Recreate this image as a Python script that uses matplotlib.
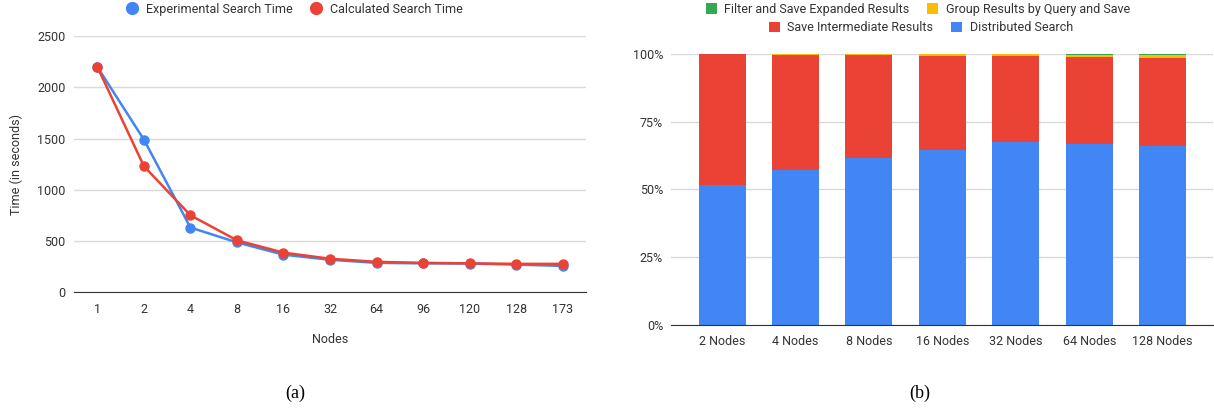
import matplotlib.pyplot as plt
from matplotlib.lines import Line2D
import numpy as np

# Dados do grafico (a)
nodes = ['1', '2', '4', '8', '16', '32', '64', '96', '120', '128', '173']
experimental = [2200, 1490, 630, 485, 365, 315, 285, 280, 278, 268, 255]
calculated = [2200, 1230, 750, 505, 385, 325, 295, 285, 280, 275, 275]

# Dados do grafico (b)
bar_labels = ['2 Nodes', '4 Nodes', '8 Nodes', '16 Nodes', '32 Nodes', '64 Nodes', '128 Nodes']
distributed = [51.7, 57.2, 61.5, 64.6, 67.6, 66.8, 66.1]
save_inter = [48.2, 42.3, 38.0, 34.6, 31.6, 31.9, 32.2]
group_save = [0.05, 0.4, 0.4, 0.7, 0.7, 0.8, 1.1]
filter_save = [0.05, 0.1, 0.1, 0.1, 0.1, 0.5, 0.6]

BLUE = '#4285F4'
RED = '#EA4335'
YELLOW = '#FBBC04'
GREEN = '#34A853'
GRID = '#d9d9d9'
TXT = '#333333'

plt.rcParams['font.family'] = ['Roboto', 'DejaVu Sans']
plt.rcParams['font.size'] = 9

fig = plt.figure(figsize=(12.14, 4.11), dpi=100)

# --- (a) linhas ---
ax1 = fig.add_axes([0.061, 0.2895, 0.4217, 0.6225])
x = np.arange(len(nodes))
ax1.plot(x, experimental, color=BLUE, lw=1.8, marker='o', ms=6.5, label='Experimental Search Time')
ax1.plot(x, calculated, color=RED, lw=1.8, marker='o', ms=6.5, label='Calculated Search Time')
ax1.set_xticks(x)
ax1.set_xticklabels(nodes)
ax1.set_xlim(-0.5, len(nodes) - 0.5)
ax1.set_ylim(0, 2500)
ax1.set_yticks([0, 500, 1000, 1500, 2000, 2500])
ax1.grid(axis='y', color=GRID, lw=1)
ax1.set_axisbelow(True)
for s in ['top', 'right', 'left']:
    ax1.spines[s].set_visible(False)
ax1.spines['bottom'].set_color(TXT)
ax1.tick_params(length=0, colors=TXT, labelsize=9)
ax1.tick_params(axis='x', pad=8)
ax1.tick_params(axis='y', pad=6)
ax1.set_xlabel('Nodes', color=TXT, fontsize=9, labelpad=12)
ax1.set_ylabel('Time (in seconds)', color=TXT, fontsize=9, labelpad=10)
h = [Line2D([], [], ls='none', marker='o', ms=8.5, color=BLUE),
     Line2D([], [], ls='none', marker='o', ms=8.5, color=RED)]
ax1.legend(h, ['Experimental Search Time', 'Calculated Search Time'], loc='center',
           bbox_to_anchor=(0.43, 1.105), ncol=2, frameon=False, fontsize=9,
           handlelength=1, handletextpad=0.6, columnspacing=1.4, labelcolor=TXT)

# --- (b) barras empilhadas ---
ax2 = fig.add_axes([0.553, 0.209, 0.4465, 0.66])
xb = np.arange(len(bar_labels))
w = 0.64
b1 = ax2.bar(xb, distributed, w, color=BLUE, label='Distributed Search')
bottom = np.array(distributed)
b2 = ax2.bar(xb, save_inter, w, bottom=bottom, color=RED, label='Save Intermediate Results')
bottom = bottom + np.array(save_inter)
b3 = ax2.bar(xb, group_save, w, bottom=bottom, color=YELLOW, label='Group Results by Query and Save')
bottom = bottom + np.array(group_save)
b4 = ax2.bar(xb, filter_save, w, bottom=bottom, color=GREEN, label='Filter and Save Expanded Results')
ax2.set_xticks(xb)
ax2.set_xticklabels(bar_labels)
ax2.set_xlim(-0.69, len(bar_labels) - 0.31)
ax2.set_ylim(0, 100)
ax2.set_yticks([0, 25, 50, 75, 100])
ax2.set_yticklabels(['0%', '25%', '50%', '75%', '100%'])
ax2.grid(axis='y', color=GRID, lw=1)
ax2.set_axisbelow(True)
for s in ['top', 'right', 'left']:
    ax2.spines[s].set_visible(False)
ax2.spines['bottom'].set_color(TXT)
ax2.tick_params(length=0, colors=TXT, labelsize=9)
ax2.tick_params(axis='x', pad=7)
ax2.tick_params(axis='y', pad=6)

kw = dict(loc='center', ncol=2, frameon=False, fontsize=9, handlelength=0.9,
          handleheight=0.9, handletextpad=0.6, columnspacing=1.4, labelcolor=TXT)
leg1 = ax2.legend([b4, b3], [b4.get_label(), b3.get_label()],
                  bbox_to_anchor=(0.455, 1.164), **kw)
ax2.add_artist(leg1)
ax2.legend([b2, b1], [b2.get_label(), b1.get_label()],
           bbox_to_anchor=(0.46, 1.096), **kw)

# legendas (a) e (b)
fig.text(0.243, 0.044, '(a)', family='Liberation Serif', fontsize=13, ha='center', va='center')
fig.text(0.758, 0.044, '(b)', family='Liberation Serif', fontsize=13, ha='center', va='center')

fig.savefig('out.png', dpi=100)
